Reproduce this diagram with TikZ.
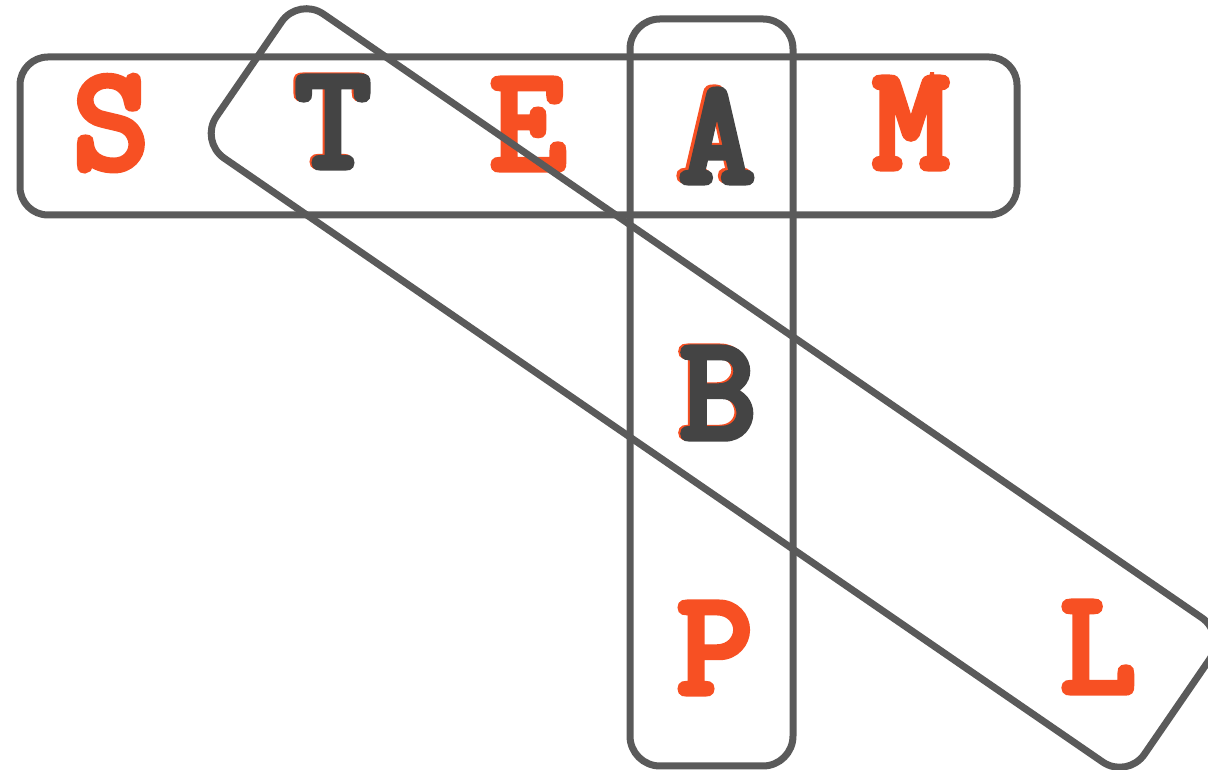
\documentclass[tikz,border=0pt]{standalone}
\usepackage{fontspec}
\newfontfamily\letterfont{Latin Modern Mono}[FakeBold=5]
\definecolor{frame}{HTML}{5A5A5A}
\definecolor{orng}{HTML}{F75023}
\definecolor{dark}{HTML}{444444}
\begin{document}
\begin{tikzpicture}[x=1pt,y=1pt,
  box/.style={draw=frame,line width=7pt,rounded corners=28pt},
  letter/.style={anchor=base,inner sep=0pt,font=\letterfont\fontsize{147}{147}\selectfont},
  orangeletter/.style={letter,text=orng},
  darkletter/.style={letter,text=dark}]
\useasboundingbox (0,0) rectangle (1208,770);
% letters
\node[orangeletter] (S) at (111,602) {S};
\node[orangeletter] (Tsh) at (331,604) {T};
\node[darkletter] (T) at (333,603) {T};
\node[orangeletter] (E) at (528,601) {E};
\node[orangeletter] (Ash) at (714,590) {A};
\node[darkletter] (A) at (717,588) {A};
\begin{scope}
  \clip (850,560) rectangle (980,697);
  \node[orangeletter] (M) at (911,602) {M};
\end{scope}
\node[orangeletter] (Bsh) at (716,333) {B};
\node[darkletter] (B) at (718,332) {B};
\node[orangeletter] (P) at (715,77) {P};
\node[orangeletter] (L) at (1098,78) {L};
% frames
\node[box,minimum width=997pt,minimum height=158pt] (row) at (518.5,634) {};
\node[box,minimum width=163pt,minimum height=747pt,rounded corners=30pt] (col) at (711.5,377.5) {};
\node[box,minimum width=1126pt,minimum height=175pt,rotate=-34.5,rounded corners=30pt] (diag) at (713,382) {};
\end{tikzpicture}
\end{document}
